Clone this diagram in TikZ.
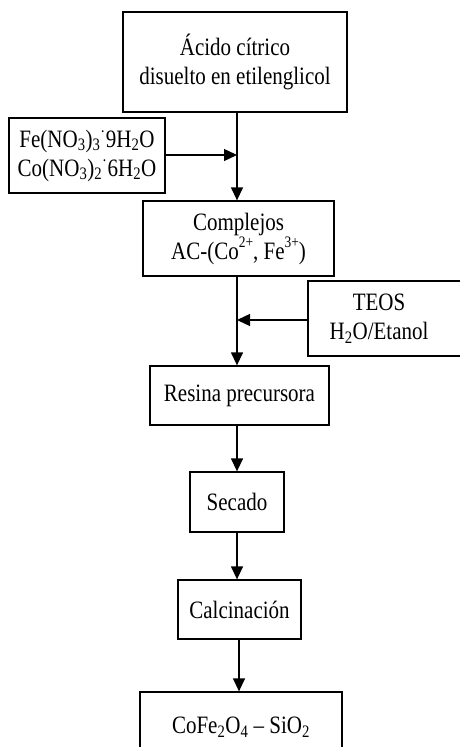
\documentclass[tikz,border=0pt]{standalone}
\usepackage{fontspec}
\setmainfont[FakeStretch=0.84]{Liberation Serif}
\usetikzlibrary{arrows.meta}
\tikzset{
  stage/.style={draw, line width=1.3pt, align=center, inner sep=0pt,
    font=\fontsize{25}{29}\selectfont},
  flow/.style={line width=1.3pt, -{Triangle[length=13pt,width=12pt]}}
}
% raised charge index
\newcommand{\upidx}[1]{\raisebox{0.45em}{\fontsize{16}{16}\selectfont #1}}
\begin{document}
\begin{tikzpicture}[x=1pt,y=-1pt]
\useasboundingbox (0,0) rectangle (460,747);
% stages of the synthesis
\node[stage, minimum width=224pt, minimum height=100pt] (acido) at (235,62)
  {Ácido cítrico\\disuelto en etilenglicol};
\node[stage, minimum width=156pt, minimum height=75pt] (nitr) at (87,155.5)
  {Fe(NO\textsubscript{3})\textsubscript{3}\textsuperscript{·}9H\textsubscript{2}O\\
   Co(NO\textsubscript{3})\textsubscript{2}\textsuperscript{·}6H\textsubscript{2}O};
\node[stage, minimum width=191pt, minimum height=75pt] (compl) at (238.5,238.5)
  {Complejos\\AC-(Co\upidx{2+}, Fe\upidx{3+})};
\node[stage, minimum width=162pt, minimum height=75pt] (teos) at (389,318.5)
  {\hspace*{-20pt}TEOS\\\hspace*{-20pt}H\textsubscript{2}O/Etanol};
\node[stage, minimum width=179pt, minimum height=59pt] (resina) at (239.5,395.5)
  {Resina precursora};
\node[stage, minimum width=94pt, minimum height=60pt] (secado) at (237,502)
  {Secado};
\node[stage, minimum width=123pt, minimum height=59pt] (calcin) at (239.5,609.5)
  {Calcinación};
\node[stage, minimum width=202pt, minimum height=70pt] (prod) at (241,727)
  {CoFe\textsubscript{2}O\textsubscript{4} – SiO\textsubscript{2}};
% points on the main line
\coordinate (j1) at (237,155);
\coordinate (j2) at (237,320);
\coordinate (j3) at (239,0);
% connectors
\draw[flow] (acido.south -| j1) -- (compl.north -| j1);
\draw[flow] (nitr.east |- j1) -- (j1);
\draw[flow] (compl.south -| j2) -- (resina.north -| j2);
\draw[flow] (teos.west |- j2) -- (j2);
\draw[flow] (resina.south -| secado.center) -- (secado.north);
\draw[flow] (secado.south) -- (calcin.north -| secado.center);
\draw[flow] (calcin.south -| j3) -- (prod.north -| j3);
\end{tikzpicture}
\end{document}
